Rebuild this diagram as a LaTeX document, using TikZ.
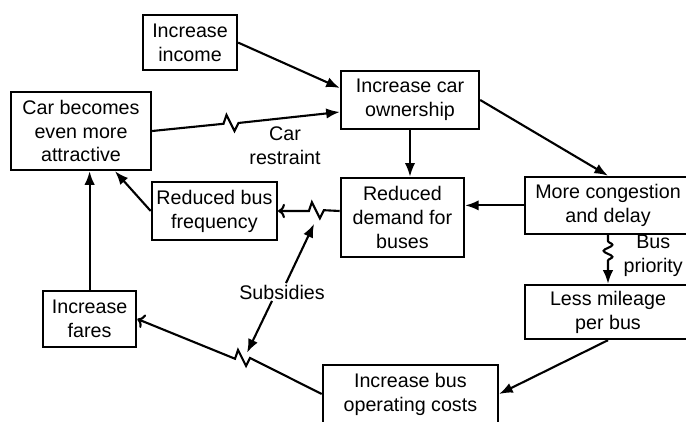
\documentclass[tikz,border=0pt]{standalone}
\usepackage{fontspec}
\setmainfont{Liberation Sans}
\usepackage{tikz}
\usetikzlibrary{arrows.meta, positioning, calc, decorations.pathmorphing}
\tikzset{
  blk/.style={rectangle, draw=black, line width=1.7pt, align=center, font=\fontsize{14}{17}\selectfont, inner sep=2pt},
  lab/.style={align=center, font=\fontsize{14}{17}\selectfont, inner sep=1pt},
  arr/.style={-{Latex[length=3.4mm, width=2.6mm]}, line width=1.5pt, draw=black},
  wavy/.style={decorate, decoration={snake, amplitude=0.11cm, segment length=0.3cm}},
}
\newcommand{\breakmark}{-- ++(0.075,0.22) -- ++(0.2,-0.4) -- ++(0.1,0.2)}

\begin{document}
\begin{tikzpicture}
  \useasboundingbox (0,0) rectangle (17.15,10.525);
  \node[blk, minimum width=2.35cm, minimum height=1.375cm] (inc) at (4.75,9.46) {Increase\\income};
  \node[blk, minimum width=3.45cm, minimum height=1.45cm] (own) at (10.25,8.025) {Increase car\\ownership};
  \node[blk, minimum width=3.5cm, minimum height=1.95cm] (attr) at (2.025,7.25) {Car becomes\\even more\\attractive};
  \node[blk, minimum width=3.125cm, minimum height=1.45cm] (freq) at (5.36,5.25) {Reduced bus\\frequency};
  \node[blk, minimum width=3.075cm, minimum height=1.975cm] (dem) at (10.06,5.09) {Reduced\\demand for\\buses};
  \node[blk, minimum width=4.15cm, minimum height=1.425cm] (cong) at (15.2,5.39) {More congestion\\and delay};
  \node[blk, minimum width=4.15cm, minimum height=1.35cm] (less) at (15.2,2.725) {Less mileage\\per bus};
  \node[blk, minimum width=4.375cm, minimum height=1.45cm] (cost) at (10.26,0.675) {Increase bus\\operating costs};
  \node[blk, minimum width=2.325cm, minimum height=1.4cm] (fares) at (2.24,2.55) {Increase\\fares};
  \node[lab] (restr) at (7.125,6.875) {Car\\restraint};
  \node[lab] (prio) at (16.33,4.125) {Bus\\priority};
  \node[lab] (sub) at (7.05,3.225) {Subsidies};

  \coordinate (ownin) at ([yshift=-0.3cm]own.west);
  \coordinate (zr) at ($(attr.east)!0.38!(ownin)$);
  \coordinate (zf) at ($(freq.east)!0.5!(freq.east -| dem.west)$);
  \coordinate (zc) at ($(fares.east)!0.53!(cost.west)$);
  \coordinate (subtop) at ([shift={(0.13,-0.32)}]zf);
  \coordinate (subbot) at ([shift={(0.3,0.15)}]zc);

  \draw[arr] (inc.east) -- ([yshift=0.3cm]own.west);
  \draw[arr] (attr.east) -- (zr) \breakmark -- (ownin);
  \draw[arr] (own.south) -- (own.south |- dem.north);
  \draw[arr] (own.east) -- (cong.north);
  \draw[arr] (cong.west) -- (cong.west -| dem.east);
  \draw[arr, <-] (freq.east) -- (zf) \breakmark -- (freq.east -| dem.west);
  \draw[arr] (freq.west) -- ([xshift=0.85cm]attr.south);
  \draw[arr] (fares.north) -- (fares.north |- attr.south);
  \draw[arr, <-] (fares.east) -- (zc) \breakmark -- (cost.west);
  \draw[arr] (less.south) -- (cost.east);
  \draw[arr] (cong.south) -- ([yshift=-0.15cm]cong.south) decorate[wavy] {-- ([yshift=-0.75cm]cong.south)} -- (less.north);
  \draw[arr] ([xshift=0.1cm]sub.north) -- (subtop);
  \draw[arr] ([xshift=-0.25cm]sub.south) -- (subbot);
\end{tikzpicture}
\end{document}
